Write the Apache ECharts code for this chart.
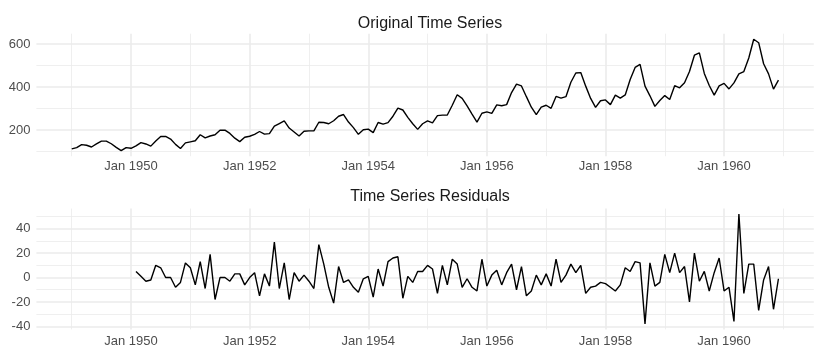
<!DOCTYPE html>
<html>
<head>
<meta charset="utf-8">
<script src="https://cdn.jsdelivr.net/npm/echarts@6/dist/echarts.min.js"></script>
<style>
html,body{margin:0;padding:0;background:#fff;}
#chart{width:822px;height:356px;}
</style>
</head>
<body>
<div id="chart"></div>
<script>
// Monthly airline passengers, Jan 1949 - Dec 1960
const startYear = 1949;
const passengers = [
  112,118,132,129,121,135,148,148,136,119,104,118,
  115,126,141,135,125,149,170,170,158,133,114,140,
  145,150,178,163,172,178,199,199,184,162,146,166,
  171,180,193,181,183,218,230,242,209,191,172,194,
  196,196,236,235,229,243,264,272,237,211,180,201,
  204,188,235,227,234,264,302,293,259,229,203,229,
  242,233,267,269,270,315,364,347,312,274,237,278,
  284,277,317,313,318,374,413,405,355,306,271,306,
  315,301,356,348,355,422,465,467,404,347,305,336,
  340,318,362,348,363,435,491,505,404,359,310,337,
  360,342,406,396,420,472,548,559,463,407,362,405,
  417,391,419,461,472,535,622,606,508,461,390,432
];
// Residuals, Feb 1950 - Dec 1960
const residualStart = { year: 1950, month: 1 }; // month index 1 = Feb
const residuals = [
  5,1,-3,-2,10,8,0,0,-8,-4,12,
  8,-6,13,-9,19,-18,0,0,-3,3,3,-6,
  0,4,-15,3,-7,29,-9,12,-18,4,-3,2,
  -3,-9,27,11,-8,-21,9,-4,-2,-8,-12,-1,
  1,-16,7,-7,13,16,17,-17,1,-4,5,5,
  10,7,-13,10,-6,15,11,-8,-1,-8,-11,15,
  -7,2,6,-6,4,11,-10,9,-15,-11,2,-6,
  3,-7,15,-4,2,11,4,10,-13,-8,-7,-4,
  -5,-8,-11,-6,8,5,13,12,-38,12,-7,-4,
  19,4,20,4,9,-20,20,-3,5,-11,4,16,
  -11,-8,-36,52,-13,11,11,-27,-2,9,-26,-1
];
const xLabelYears = [1950,1952,1954,1956,1958,1960];
const xMinorYears = [1949,1951,1953,1955,1957,1959,1961];
const topMajor = [200,400,600];
const topMinor = [100,300,500];
const botMajor = [-40,-20,0,20,40];
const botMinor = [-30,-10,10,30,50];
const titles = ['Original Time Series','Time Series Residuals'];

const topData = passengers.map((v,i)=>[startYear + i/12, v]);
const botData = residuals.map((v,i)=>[residualStart.year + (residualStart.month + i)/12, v]);

const xMin = 1948.404, xMax = 1961.513;
const grids = [
  {left:36.4, right:8.2, top:33.7, height:122.5},
  {left:36.4, right:8.2, top:208.6, height:120.8}
];
const lab = {color:'#4d4d4d', fontSize:13, fontFamily:'Liberation Sans, Arial, sans-serif'};
function xAxisPair(gi, margin){
  return [
    {type:'value', gridIndex:gi, min:xMin, max:xMax,
     axisLine:{show:false}, axisTick:{show:false, customValues:xLabelYears},
     axisLabel:Object.assign({customValues:xLabelYears, margin:margin, formatter:v=>'Jan '+Math.round(v)}, lab),
     splitLine:{show:true, lineStyle:{color:'#ebebeb', width:1.6}}},
    {type:'value', gridIndex:gi, min:xMin, max:xMax,
     axisLine:{show:false}, axisTick:{show:false, customValues:xMinorYears},
     axisLabel:{show:false, customValues:xMinorYears},
     splitLine:{show:true, lineStyle:{color:'#ebebeb', width:0.8}}}
  ];
}
function yAxisPair(gi, min, max, major, minor){
  return [
    {type:'value', gridIndex:gi, min:min, max:max,
     axisLine:{show:false}, axisTick:{show:false, customValues:major},
     axisLabel:Object.assign({customValues:major, margin:6}, lab),
     splitLine:{show:true, lineStyle:{color:'#ebebeb', width:1.6}}},
    {type:'value', gridIndex:gi, min:min, max:max,
     axisLine:{show:false}, axisTick:{show:false, customValues:minor},
     axisLabel:{show:false, customValues:minor},
     splitLine:{show:true, lineStyle:{color:'#ebebeb', width:0.8}}}
  ];
}
const chart = echarts.init(document.getElementById('chart'), null, {renderer:'canvas'});
chart.setOption({
  animation:false,
  backgroundColor:'#ffffff',
  title:[
    {text:titles[0], left:425, top:11, textAlign:'center',
     textStyle:{fontSize:16, fontWeight:'normal', color:'#1a1a1a', fontFamily:'Liberation Sans, Arial, sans-serif'}},
    {text:titles[1], left:425, top:184, textAlign:'center',
     textStyle:{fontSize:16, fontWeight:'normal', color:'#1a1a1a', fontFamily:'Liberation Sans, Arial, sans-serif'}}
  ],
  grid:grids,
  xAxis:[...xAxisPair(0,4), ...xAxisPair(1,6)],
  yAxis:[...yAxisPair(0,78.1,647.9,topMajor,topMinor), ...yAxisPair(1,-42.5,56.5,botMajor,botMinor)],
  series:[
    {type:'line', xAxisIndex:0, yAxisIndex:0, data:topData, showSymbol:false,
     lineStyle:{color:'#000', width:1.4}},
    {type:'line', xAxisIndex:2, yAxisIndex:2, data:botData, showSymbol:false,
     lineStyle:{color:'#000', width:1.4}}
  ]
});
</script>
</body>
</html>
